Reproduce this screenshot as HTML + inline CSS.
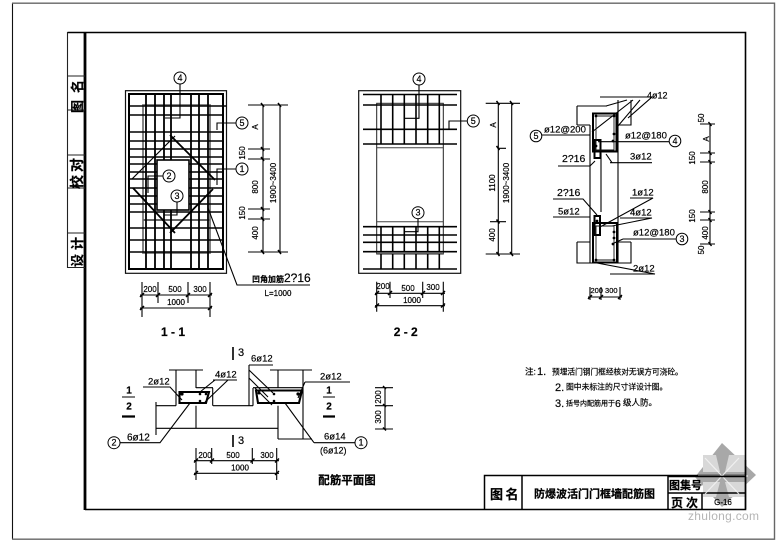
<!DOCTYPE html>
<html><head><meta charset="utf-8"><style>
html,body{margin:0;padding:0;background:#fff}
svg{display:block;filter:blur(0.3px)}
text{font-family:"Liberation Sans","Noto Sans CJK SC",sans-serif;fill:#000;stroke:#000;stroke-width:.2px}
.t{font-size:8px;text-anchor:middle;dominant-baseline:middle}
.l{font-size:10.5px;dominant-baseline:middle}
.c{font-size:9px;text-anchor:middle;dominant-baseline:central}
</style></head><body>
<svg width="780" height="542" viewBox="0 0 780 542" xmlns="http://www.w3.org/2000/svg">
<!-- sheet borders -->
<path d="M12.5 3V539" stroke="#111" stroke-width="1.1" fill="none"/>
<path d="M12 3.2H774.5V539.2H12" stroke="#666" stroke-width="1.4" fill="none"/>
<!-- frame -->
<path d="M67.5 32.5H745.5V509.5H85" stroke="#000" stroke-width="1.6" fill="none"/>
<path d="M85 32V510" stroke="#000" stroke-width="2.8"/>
<path d="M67.5 32V267.5H85M67.5 76H85M67.5 110H85M67.5 155H85M67.5 188H85M67.5 233H85" stroke="#222" stroke-width="1.1" fill="none"/>
<text transform="translate(82,93) rotate(-90)" text-anchor="middle" style="font-size:13px;font-weight:bold;letter-spacing:7px">图名</text>
<text transform="translate(82,172) rotate(-90)" text-anchor="middle" style="font-size:14px;font-weight:bold;letter-spacing:3px">校对</text>
<text transform="translate(82,250) rotate(-90)" text-anchor="middle" style="font-size:13px;font-weight:bold;letter-spacing:4px">设计</text>

<!-- 1-1 -->
<rect x="125.5" y="90.7" width="101" height="182.6" fill="none" stroke="#111" stroke-width="1.2"/>
<rect x="129" y="94" width="94" height="175" fill="none" stroke="#000" stroke-width="2"/>
<rect x="143" y="105" width="67" height="148" fill="none" stroke="#777" stroke-width="1.8"/>
<g stroke="#000" stroke-width="1.4">
<path d="M129 106H226M129 115H223M129 132H223M129 141H223M129 149H223M129 157H223M129 164H223M129 172H223M129 179H223M129 188H223M129 196H223M129 204H223M129 212H223M129 228H223M129 240H223M129 252H223"/>
<path d="M143 220H210" stroke="#666" stroke-width="1.9"/>
</g>
<g stroke="#000" stroke-width="1.8">
<path d="M146 94V269M155 94V269M164 94V269M171 94V269M191 94V269M199 94V269M208 94V269"/>
</g>
<rect x="157" y="160" width="32" height="50" fill="#fff" stroke="#000" stroke-width="1.6"/>
<g stroke="#000" stroke-width="1.8" fill="none">
<path d="M175 136L132 179" stroke-width="1.2"/>
<path d="M170 135L215 180M133 188L175 233M170 233L213 189"/>
</g>
<g stroke="#000" stroke-width="1.1" fill="none">
<path d="M180 84V118H165M236 123H217V130M236 169H217V185M163 176H148V193M177 202V215H164"/>
<path d="M208 208L237 285H310"/>
<path d="M248 105H288M248 149H270M248 159H270M248 209H270M248 219H270M248 252H288M263 105V252M280 105V252"/>
<path d="M142 282V317M158 282V303M188 282V303M210 282V317M140 295H212M140 308H212"/>
</g>
<g stroke="#000" stroke-width="1.5">
<path d="M261 103l3 4M261 147l3 4M261 157l3 4M261 207l3 4M261 217l3 4M261 250l3 4M278 103l3 4M278 250l3 4M140 297l4 -4M156 297l4 -4M186 297l4 -4M208 297l4 -4M140 310l4 -4M208 310l4 -4"/>
</g>
<g fill="#fff" stroke="#000" stroke-width="1">
<circle cx="180" cy="78" r="6"/><circle cx="242" cy="123" r="6"/><circle cx="242" cy="169" r="6"/><circle cx="169" cy="176" r="6"/><circle cx="177" cy="196" r="6"/>
</g>
<text class="c" x="180" y="78">4</text><text class="c" x="242" y="123">5</text><text class="c" x="242" y="169">1</text><text class="c" x="169" y="176">2</text><text class="c" x="177" y="196">3</text>
<text class="t" transform="translate(243,153) rotate(-90)">150</text>
<text class="t" transform="translate(256,127) rotate(-90)">A</text>
<text class="t" transform="translate(256,187) rotate(-90)">800</text>
<text class="t" transform="translate(243,213) rotate(-90)">150</text>
<text class="t" transform="translate(256,233) rotate(-90)">400</text>
<text class="t" transform="translate(274,183) rotate(-90)">1900~3400</text>
<text x="252" y="282" style="font-size:8px;font-weight:bold">凹角加筋</text><text x="284" y="282" style="font-size:12px">2?16</text>
<text class="t" x="278" y="294">L=1000</text>
<text class="t" x="150" y="290">200</text><text class="t" x="175" y="290">500</text><text class="t" x="200" y="290">300</text><text class="t" x="176" y="303">1000</text>
<text x="173" y="333" text-anchor="middle" dominant-baseline="middle" style="font-size:12px;font-weight:bold">1 - 1</text>

<!-- 2-2 -->
<rect x="358.7" y="90.7" width="102" height="182.6" fill="none" stroke="#111" stroke-width="1.2"/>
<rect x="376.7" y="103.3" width="66.6" height="150.7" fill="none" stroke="#222" stroke-width="1"/>
<g stroke="#000" stroke-width="1.6">
<path d="M363 94.5H457M363 105H457M363 129.3H457M363 144H457M363 226.7H457M363 235H457M363 242.3H457M363 251.7H457M363 269H457"/>
<path d="M381 95V144M392.7 95V144M404.3 95V144M416 95V144M427.7 95V144M439.3 95V144M381 226.7V269M392.7 226.7V269M404.3 226.7V269M416 226.7V269M427.7 226.7V269M439.3 226.7V269"/>
</g>
<path d="M377 147.7H443M377 221.7H443" stroke="#444" stroke-width="1"/>
<path d="M377 253H443" stroke="#666" stroke-width="1.8"/>
<g stroke="#000" stroke-width="1.1" fill="none">
<path d="M419 85V118.3H405M467 121H449V129M418 219V231.7H405"/>
<path d="M485.7 103.3H520M498 148.3H506M490 221.7H506M485.7 254H520M498.3 103.3V254M511.7 103.3V254"/>
<path d="M376.7 281.7V311.7M390 281.7V298M422.7 281.7V298M443.3 281.7V311.7M375 293.3H445M375 305.7H445"/>
</g>
<g stroke="#000" stroke-width="1.5">
<path d="M496.5 101l3 4M496.5 146l3 4M496.5 219.5l3 4M496.5 252l3 4M510 101l3 4M510 252l3 4M375 295l4 -4M388 295l4 -4M421 295l4 -4M441 295l4 -4M375 307.5l4 -4M441 307.5l4 -4"/>
</g>
<g fill="#fff" stroke="#000" stroke-width="1">
<circle cx="419" cy="79" r="6"/><circle cx="473.3" cy="121" r="6"/><circle cx="418" cy="212.7" r="6"/>
</g>
<text class="c" x="419" y="79">4</text><text class="c" x="473.3" y="121">5</text><text class="c" x="418" y="212.7">3</text>
<text class="t" transform="translate(494,125) rotate(-90)">A</text>
<text class="t" transform="translate(492.7,183) rotate(-90)">1100</text>
<text class="t" transform="translate(492.7,235) rotate(-90)">400</text>
<text class="t" transform="translate(507,183) rotate(-90)">1900~3400</text>
<text class="t" x="383" y="287">200</text><text class="t" x="408" y="289">500</text><text class="t" x="433" y="288">300</text><text class="t" x="412" y="301">1000</text>
<text x="405.7" y="333" text-anchor="middle" dominant-baseline="middle" style="font-size:12px;font-weight:bold">2 - 2</text>

<!-- 3-3 -->
<g stroke="#000" stroke-width="1.1" fill="none">
<path d="M590 125V263M618 100V263M601 153V212"/>
<path d="M577 106H607M577 106V125M577 125H590M631 100V125H618M577 242H590M577 242V263H590M631 242V263H618M618 242H631"/>
<path d="M590 263H618"/>
<path d="M592 132L633 100M618 126L640 100M606 106L627 100"/>
<path d="M536 135H590M598 141.7H670M558 166H590L595 161M610 162.7H652M606 154L612 162.7M553 199H583L597 215M630 198H653L600 227M553 217H590M620 218H652L612 226M623 239H677M612 244L623 239M610 274H655L597 263"/>
<path d="M600 97H652L628 118"/>
<path d="M590 287V300M601 287V300M620 287V300M588 297H622"/>
<path d="M710 123V245M700 124H715M700 153H715M700 162H715M700 212H715M700 220H715M700 244H715"/>
</g>
<g stroke="#000" stroke-width="2" fill="none">
<rect x="593" y="113.5" width="23.5" height="38"/>
<rect x="593" y="223" width="24" height="39.5"/>
<rect x="594.5" y="140" width="6" height="18"/>
<rect x="594.5" y="216" width="5.5" height="19"/>
</g>
<path d="M596 116L614 116L614 150L596 150ZM596 226H614V260H596Z" fill="none" stroke="#111" stroke-width="0.9"/>
<g fill="#000"><circle cx="614" cy="134" r="1.4"/><circle cx="613" cy="141" r="1.4"/><circle cx="614" cy="232" r="1.4"/><circle cx="614" cy="238" r="1.4"/><circle cx="613" cy="244" r="1.4"/><circle cx="596" cy="116" r="1.4"/><circle cx="614" cy="116" r="1.4"/><circle cx="596" cy="260" r="1.4"/><circle cx="614" cy="260" r="1.4"/><circle cx="596" cy="146" r="1.4"/><circle cx="597" cy="221" r="1.4"/></g>
<g stroke="#000" stroke-width="1.4"><path d="M708.5 122l3 4M708.5 151l3 4M708.5 160l3 4M708.5 210l3 4M708.5 218l3 4M708.5 242l3 4M588 299l4 -4M599 299l4 -4M618 299l4 -4"/></g>
<g fill="#fff" stroke="#000" stroke-width="1">
<circle cx="536" cy="136" r="5.8"/><circle cx="675" cy="141" r="5.8"/><circle cx="682" cy="239" r="5.8"/>
</g>
<text class="c" x="536" y="136">5</text><text class="c" x="675" y="141">4</text><text class="c" x="682" y="239">3</text>
<text class="l" x="647" y="96" style="font-size:9px">4ø12</text>
<text class="l" x="544" y="130" style="font-size:9.5px">ø12@200</text>
<text class="l" x="625" y="136" style="font-size:9.5px">ø12@180</text>
<text class="l" x="562" y="159" style="font-size:10.5px">2?16</text>
<text class="l" x="630" y="157" style="font-size:9.5px">3ø12</text>
<text class="l" x="557" y="193" style="font-size:10.5px">2?16</text>
<text class="l" x="632" y="193" style="font-size:9.5px">1ø12</text>
<text class="l" x="558" y="212" style="font-size:9.5px">5ø12</text>
<text class="l" x="630" y="213" style="font-size:9.5px">4ø12</text>
<text class="l" x="633" y="233" style="font-size:9.5px">ø12@180</text>
<text class="l" x="633" y="269" style="font-size:9.5px">2ø12</text>
<text class="t" x="604" y="291" style="font-size:7.5px">200 300</text>
<text class="t" transform="translate(702,118) rotate(-90)">50</text>
<text class="t" transform="translate(707,139) rotate(-90)">A</text>
<text class="t" transform="translate(693,158) rotate(-90)">150</text>
<text class="t" transform="translate(706,187) rotate(-90)">800</text>
<text class="t" transform="translate(693,216) rotate(-90)">150</text>
<text class="t" transform="translate(706,233) rotate(-90)">400</text>
<text class="t" transform="translate(702,250) rotate(-90)">50</text>

<!-- plan -->
<g stroke="#000" stroke-width="1.1" fill="none">
<path d="M196 387.7H213M253 387.7H303M156 405.7H176M213 405.7H253M196 428.3H278M156 428.3H196"/>
<path d="M176 370V405.7M196 370V388M196 405.7V428.3M278 370V388M278 405.7V439M303 370V439M169 370H203M270 370H312M278 439H312M156 402V435M212.7 388V405.7M249 365V405.7M253 388V405.7"/>
<path d="M249 365H273M249 370L273 393M249 378L268 397M255 388L272 405"/>
<path d="M143 387H170L182 400M213 380H237M215 380L200 392M228 380L205 402M305 382H350M305 382L298 398M120 442.7H160L190 403M314 442.7H355M314 442.7L285 403"/>
<path d="M196 448V480M211.7 448V464M252.3 448V464M276.7 448V480M194 460.7H279M194 473.3H279"/>
<path d="M375 387.7H393M375 405.7H393M375 429H393M385 387.7V429"/>
</g>
<g stroke="#000" stroke-width="2.1" fill="none">
<path d="M179.5 392H209L206 403H179.5Z"/>
<path d="M256 390.5H302L299 403H258Z"/>
</g>
<g fill="#000"><circle cx="182" cy="394" r="1.6"/><circle cx="200" cy="394" r="1.3"/><circle cx="206" cy="394" r="1.3"/><circle cx="200" cy="401" r="1.3"/><circle cx="259" cy="393" r="1.5"/><circle cx="274" cy="394" r="1.3"/><circle cx="298" cy="394" r="1.6"/><circle cx="274" cy="401" r="1.3"/></g>
<path d="M122 397H135M323 397H335" stroke="#000" stroke-width="1.1"/>
<path d="M122 416.5H135M323 416.5H335" stroke="#000" stroke-width="2.2"/>
<g stroke="#000" stroke-width="1.4"><path d="M194 462.5l4 -4M210 462.5l4 -4M250.5 462.5l4 -4M275 462.5l4 -4M194 475l4 -4M275 475l4 -4M383 386l3 3M383 404l3 3M383 427.5l3 3"/></g>
<path d="M233 347V360M233 435V447" stroke="#000" stroke-width="1.6"/>
<g fill="#fff" stroke="#000" stroke-width="1"><circle cx="114" cy="442.7" r="6"/><circle cx="361" cy="442.7" r="6"/></g>
<text class="c" x="114" y="442.7">2</text><text class="c" x="361" y="442.7">1</text>
<text x="241" y="353" text-anchor="middle" dominant-baseline="middle" style="font-size:11px">3</text>
<text x="241" y="441" text-anchor="middle" dominant-baseline="middle" style="font-size:11px">3</text>
<text class="l" x="251" y="359" style="font-size:9.5px">6ø12</text>
<text class="l" x="148" y="382" style="font-size:9.5px">2ø12</text>
<text class="l" x="215" y="375" style="font-size:9.5px">4ø12</text>
<text class="l" x="320" y="377" style="font-size:9.5px">2ø12</text>
<text class="l" x="127" y="438" style="font-size:10px">6ø12</text>
<text class="l" x="324" y="437" style="font-size:9.5px">6ø14</text>
<text class="l" x="320" y="451" style="font-size:9px">(6ø12)</text>
<text class="t" x="129" y="391" style="font-size:10px;font-weight:bold">1</text><text class="t" x="129" y="407" style="font-size:10px;font-weight:bold">2</text>
<text class="t" x="329" y="391" style="font-size:10px;font-weight:bold">1</text><text class="t" x="329" y="407" style="font-size:10px;font-weight:bold">2</text>
<text class="t" x="205" y="456">200</text><text class="t" x="233" y="456">500</text><text class="t" x="267" y="456">300</text><text class="t" x="240" y="468.5">1000</text>
<text class="t" transform="translate(379,397) rotate(-90)">200</text>
<text class="t" transform="translate(379,417) rotate(-90)">300</text>
<text x="347" y="484" text-anchor="middle" style="font-size:11.5px;font-weight:bold">配筋平面图</text>

<!-- notes -->
<text x="525" y="374.5" style="font-size:8.5px">注:</text><text x="537" y="375" style="font-size:11px">1.</text>
<text x="552" y="374.5" style="font-size:7.7px">预埋活门钢门框经核对无误方可浇砼。</text>
<text x="555" y="391" style="font-size:11px">2.</text>
<text x="566" y="389.5" style="font-size:7.8px">图中未标注的尺寸详设计图。</text>
<text x="555" y="407" style="font-size:11px">3.</text>
<text x="566" y="405.5" style="font-size:7px">括号内配筋用于</text><text x="615" y="407" style="font-size:10.5px">6</text><text x="623" y="405.5" style="font-size:8.5px">级人防。</text>

<!-- title block -->
<path d="M484.5 509V475.5H745.5M522 475V509M668 475V509M702 493V509M668 493H745" stroke="#000" stroke-width="1.5" fill="none"/>
<text x="490" y="499" style="font-size:13px;font-weight:bold;letter-spacing:2.5px">图名</text>
<text x="534" y="497.5" style="font-size:11px;font-weight:bold">防爆波活门门框墙配筋图</text>
<text x="669" y="489" style="font-size:11px;font-weight:bold">图集号</text>
<text x="671" y="507" style="font-size:12px;font-weight:bold;letter-spacing:3px">页次</text>
<text x="723" y="505" text-anchor="middle" style="font-size:8px">G-16</text>

<!-- watermark -->
<g style="mix-blend-mode:multiply">
<polygon points="722,443 756,475 722,507 695,477" fill="#a8a8a8"/>
<polygon points="703,455 716,455 720,472 703,472" fill="#d8d8d8"/>
<polygon points="729,455 745,455 745,472 725,472" fill="#d8d8d8"/>
<polygon points="703,482 720,482 716,497 703,497" fill="#d8d8d8"/>
<polygon points="725,482 745,482 745,497 729,497" fill="#d8d8d8"/>
</g>
<path d="M705 458L722 476L739 458M705 494L722 476L739 494M722 476H698M722 476H748" stroke="#f4f4f4" stroke-width="1.2" fill="none" opacity=".85"/>
<path d="M668 476.5H745.5M745.5 460V509" stroke="#000" stroke-width="1.4" fill="none"/>
<text x="688" y="520" textLength="71" style="font-size:12px;fill:#b5b5b5;stroke:none">zhulong.com</text>
</svg>
</body></html>
